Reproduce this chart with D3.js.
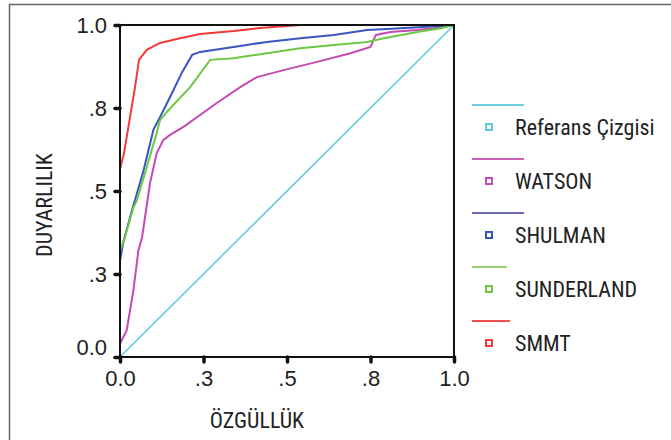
<!DOCTYPE html>
<html><head><meta charset="utf-8">
<script src="https://cdn.jsdelivr.net/npm/d3@7"></script>
<style>
html,body{margin:0;padding:0;background:#fff;}
text{font-family:"Liberation Sans Narrow","Roboto Condensed","Liberation Sans",sans-serif;fill:#222;}
</style></head><body>
<svg id="c" width="671" height="440"></svg>
<script>
const seriesNames = ["Referans Çizgisi","WATSON","SHULMAN","SUNDERLAND","SMMT"];
const tickValues = [0,0.25,0.5,0.75,1];
const tickLabels = ["0.0",".3",".5",".8","1.0"];
const refLine = [[0,0],[1,1]];
const watson = [[0,0],[0,0.04],[0.02,0.08],[0.04,0.2],[0.055,0.32],[0.066,0.36],[0.09,0.524],[0.11,0.614],[0.13,0.654],[0.15,0.669],[0.19,0.693],[0.29,0.765],[0.36,0.813],[0.41,0.843],[0.49,0.864],[0.59,0.889],[0.69,0.915],[0.75,0.934],[0.766,0.97],[0.81,0.979],[0.89,0.985],[0.94,0.99],[1,1]];
const shulman = [[0,0.25],[0,0.29],[0.01,0.346],[0.036,0.443],[0.05,0.49],[0.07,0.56],[0.1,0.684],[0.12,0.723],[0.15,0.783],[0.186,0.858],[0.216,0.91],[0.24,0.919],[0.34,0.934],[0.44,0.949],[0.54,0.96],[0.64,0.97],[0.74,0.985],[0.84,0.99],[0.96,0.997],[1,1]];
const sunderland = [[0,0.29],[0,0.32],[0.015,0.361],[0.04,0.45],[0.05,0.47],[0.08,0.572],[0.11,0.675],[0.12,0.714],[0.14,0.738],[0.21,0.813],[0.27,0.895],[0.34,0.9],[0.44,0.915],[0.54,0.93],[0.64,0.94],[0.74,0.949],[0.79,0.96],[0.89,0.979],[0.96,0.99],[1,1]];
const smmt = [[0,0.566],[0.012,0.614],[0.045,0.813],[0.057,0.895],[0.08,0.925],[0.12,0.946],[0.18,0.96],[0.24,0.973],[0.34,0.982],[0.41,0.99],[0.54,1],[1,1]];
const seriesData = [refLine, watson, shulman, sunderland, smmt];
const lineColors = ["#5fcbe0","#c44ab4","#3a54c0","#6cc846","#f23a3a"];
const legendLineColors = ["#6ccde0","#c860b8","#6a6ab8","#98d070","#f05050"];

const svg = d3.select("#c");
svg.append("line").attr("x1",9).attr("x2",671).attr("y1",4.5).attr("y2",4.5).attr("stroke","#666").attr("stroke-width",1.5);
svg.append("line").attr("x1",9.5).attr("x2",9.5).attr("y1",4).attr("y2",440).attr("stroke","#666").attr("stroke-width",1.5);

const L=120,R=454,T=25,B=357;
const x = d3.scaleLinear().domain([0,1]).range([L,R]);
const y = d3.scaleLinear().domain([0,1]).range([B,T]);

const line = d3.line().x(d=>x(d[0])).y(d=>y(d[1]));
seriesData.forEach((s,i)=>{
  svg.append("path").attr("d",line(s)).attr("fill","none")
    .attr("stroke",lineColors[i]).attr("stroke-width",i===0?1.6:2);
});

svg.append("rect").attr("x",L).attr("y",T).attr("width",R-L).attr("height",B-T)
  .attr("fill","none").attr("stroke","#111").attr("stroke-width",2);

const xa = svg.append("g").attr("transform",`translate(0,${B})`)
  .call(d3.axisBottom(x).tickValues(tickValues).tickFormat((d,i)=>tickLabels[i]).tickSize(5).tickPadding(8));
const ya = svg.append("g").attr("transform",`translate(${L},0)`)
  .call(d3.axisLeft(y).tickValues(tickValues).tickFormat((d,i)=>tickLabels[i]).tickSize(5).tickPadding(8));
[xa,ya].forEach(a=>{
  a.select(".domain").remove();
  a.selectAll(".tick line").attr("stroke","#111").attr("stroke-width",3.5).attr("stroke-linecap","round");
  a.selectAll(".tick text").attr("font-size",22).style("font-family",'"Liberation Sans Narrow",sans-serif').attr("fill","#222");
});
ya.selectAll(".tick text").filter(d=>d===0).attr("y",-10);

svg.append("text").attr("x",257).attr("y",428).attr("text-anchor","middle").attr("font-size",22).text("ÖZGÜLLÜK");
svg.append("text").attr("transform","translate(52,205) rotate(-90)").attr("text-anchor","middle").attr("font-size",22).text("DUYARLILIK");

const lg = svg.append("g");
const lineEnds=[524,524,524,507,510];
seriesNames.forEach((n,i)=>{
  const yy = 105 + i*54;
  lg.append("line").attr("x1",472).attr("x2",lineEnds[i]).attr("y1",yy).attr("y2",yy)
    .attr("stroke",legendLineColors[i]).attr("stroke-width",2);
  lg.append("rect").attr("x",486).attr("y",yy+19).attr("width",6).attr("height",6)
    .attr("fill","#fff").attr("stroke",lineColors[i]).attr("stroke-width",2);
  lg.append("text").attr("x",515).attr("y",yy+30).attr("font-size",22).text(n);
});
</script></body></html>
